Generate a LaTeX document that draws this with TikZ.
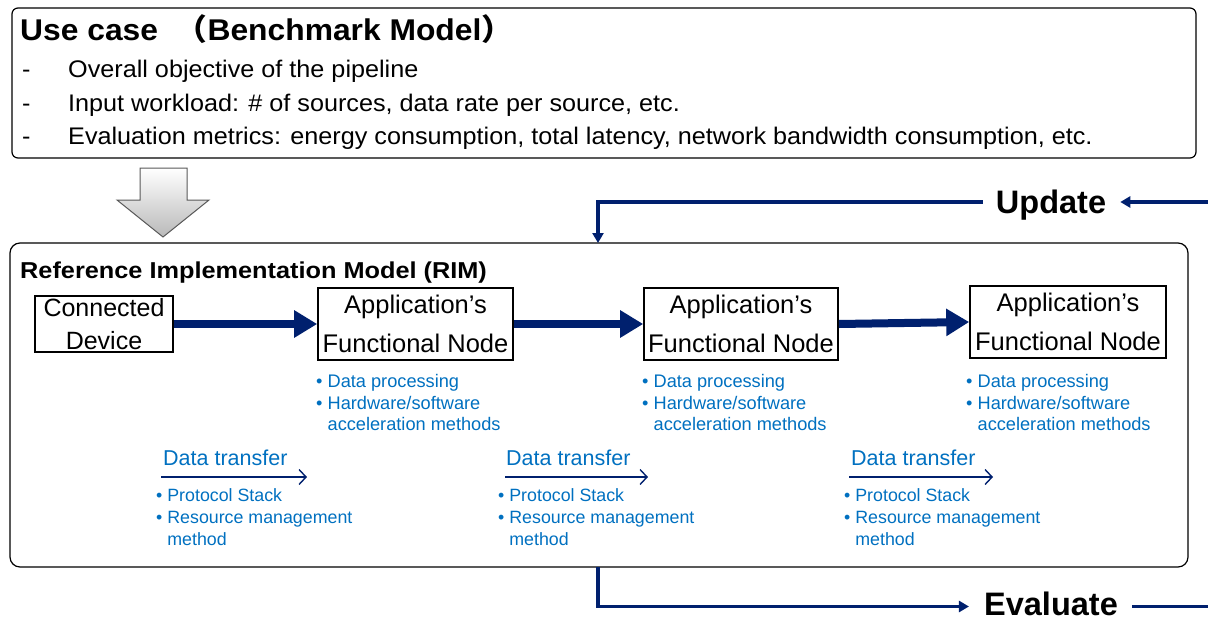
\documentclass[tikz,border=0pt]{standalone}
\usepackage{fontspec}
\setmainfont{Liberation Sans}
\newfontfamily\bodyf[FakeStretch=1.05]{Liberation Sans}
\newfontfamily\titlef[FakeStretch=1.06]{Liberation Sans}
\newfontfamily\rimf[FakeStretch=1.1]{Liberation Sans}
\newfontfamily\cjk[FakeStretch=1.06]{Noto Sans CJK JP}
\usetikzlibrary{arrows.meta,calc}
\definecolor{navy}{RGB}{0,32,110}
\definecolor{blu}{RGB}{0,112,192}
\begin{document}
\begin{tikzpicture}[x=1pt,y=-1pt,
  box/.style={draw=black,line width=1.6pt,align=center,inner sep=0pt},
  flow/.style={draw=navy,line width=8pt,-{Triangle[length=23pt,width=26pt]}},
  loop/.style={draw=navy,line width=3.2pt},
  ltip/.style={-{Triangle[length=10pt,width=11pt]}},
  blist/.style={text=blu,font=\fontsize{18.2}{21.5}\selectfont,align=left,anchor=base west,inner sep=0pt},
  plist/.style={text=blu,font=\fontsize{17.8}{22}\selectfont,align=left,anchor=base west,inner sep=0pt},
  dtl/.style={text=blu,font=\fontsize{21.5}{24}\selectfont,anchor=base west,inner sep=0pt},
  dta/.style={draw=navy,line width=1.4pt,-{Straight Barb[length=7pt,width=15pt,line width=1.4pt]}},
  item/.style={font=\bodyf\fontsize{24}{28}\selectfont,anchor=base west,inner sep=0pt},
  big/.style={inner sep=0pt,anchor=base,font=\fontsize{32.5}{36}\selectfont\bfseries}]
\useasboundingbox (0,0) rectangle (1208,619);
% top box
\draw[line width=1.2pt,rounded corners=6pt] (12,8) rectangle (1196,158);
\node[anchor=base west,inner sep=0pt,font=\titlef\fontsize{30}{34}\selectfont\bfseries] (title) at (20,40) {Use case \ {\cjk\bfseries （}Benchmark Model{\cjk\bfseries ）}};
\node[item] (d1) at (22,77.7) {-};
\node[item] (d2) at (22,111) {-};
\node[item] (d3) at (22,144.5) {-};
\node[item] (i1) at (68,77.7) {Overall objective of the pipeline};
\node[item] (i2) at (68,111) {Input workload: \# of sources, data rate per source, etc.};
\node[item] (i3) at (68,144.5) {Evaluation metrics: energy consumption, total latency, network bandwidth consumption, etc.};
% gray arrow
\shade[top color=white,bottom color=gray!55,draw=gray!70!black,line width=1pt]
  (140,168) -- (187,168) -- (187,200) -- (209,200) -- (163,237) -- (117,200) -- (140,200) -- cycle;
% RIM box
\draw[line width=1.2pt,rounded corners=10pt] (10,243) rectangle (1188,567);
\coordinate (rimin) at (598,243);
\coordinate (rimout) at (598,567);
\node[anchor=base west,inner sep=0pt,font=\rimf\fontsize{23}{26}\selectfont\bfseries] (rimt) at (20,278) {Reference Implementation Model (RIM)};
% nodes
\node[box,minimum width=138pt,minimum height=56pt,font=\fontsize{25}{33}\selectfont] (cd) at (104,324) {Connected\\Device};
\node[box,minimum width=195pt,minimum height=72pt,font=\fontsize{25.5}{39}\selectfont] (a1) at (415.5,324) {Application’s\\Functional Node};
\node[box,minimum width=194pt,minimum height=72pt,font=\fontsize{25.5}{39}\selectfont] (a2) at (741,324) {Application’s\\Functional Node};
\node[box,minimum width=196pt,minimum height=72pt,font=\fontsize{25.5}{39}\selectfont] (a3) at (1068,322) {Application’s\\Functional Node};
\draw[flow] (cd.east) -- (a1.west);
\draw[flow] (a1.east) -- (a2.west);
\draw[flow] (a2.east) -- (a3.west);
% bullets under nodes (anchor = baseline of last line)
\node[blist] (b1) at (316,430.5) {•\ Data processing\\•\ Hardware/software\\\phantom{•\ }acceleration methods};
\node[blist] (b2) at (642,430.5) {•\ Data processing\\•\ Hardware/software\\\phantom{•\ }acceleration methods};
\node[blist] (b3) at (966,430.5) {•\ Data processing\\•\ Hardware/software\\\phantom{•\ }acceleration methods};
% data transfer
\node[dtl] (t1) at (163,465) {Data transfer};
\node[dtl] (t2) at (506,465) {Data transfer};
\node[dtl] (t3) at (851,465) {Data transfer};
\coordinate (t1s) at (161,477); \coordinate (t1e) at (307,477);
\coordinate (t2s) at (505,477); \coordinate (t2e) at (648,477);
\coordinate (t3s) at (849,477); \coordinate (t3e) at (993,477);
\draw[dta] (t1s) -- (t1e);
\draw[dta] (t2s) -- (t2e);
\draw[dta] (t3s) -- (t3e);
\node[plist] (p1) at (156,545.5) {•\ Protocol Stack\\•\ Resource management\\\phantom{•\ }method};
\node[plist] (p2) at (498,545.5) {•\ Protocol Stack\\•\ Resource management\\\phantom{•\ }method};
\node[plist] (p3) at (844,545.5) {•\ Protocol Stack\\•\ Resource management\\\phantom{•\ }method};
% update / evaluate
\node[big] (upd) at (1051,213) {Update};
\node[big] (eva) at (1051,615.5) {Evaluate};
\coordinate (uin) at (1208,202);
\coordinate (eout) at (1208,606.5);
\draw[loop,ltip] (uin) -- ($(upd.east |- uin)+(14,0)$);
\draw[loop,ltip] ($(upd.west |- uin)+(-13,0)$) -| (rimin);
\draw[loop,ltip] (rimout) |- ($(eva.west |- eout)+(-15,0)$);
\draw[loop] ($(eva.east |- eout)+(14,0)$) -- (eout);
\end{tikzpicture}
\end{document}
